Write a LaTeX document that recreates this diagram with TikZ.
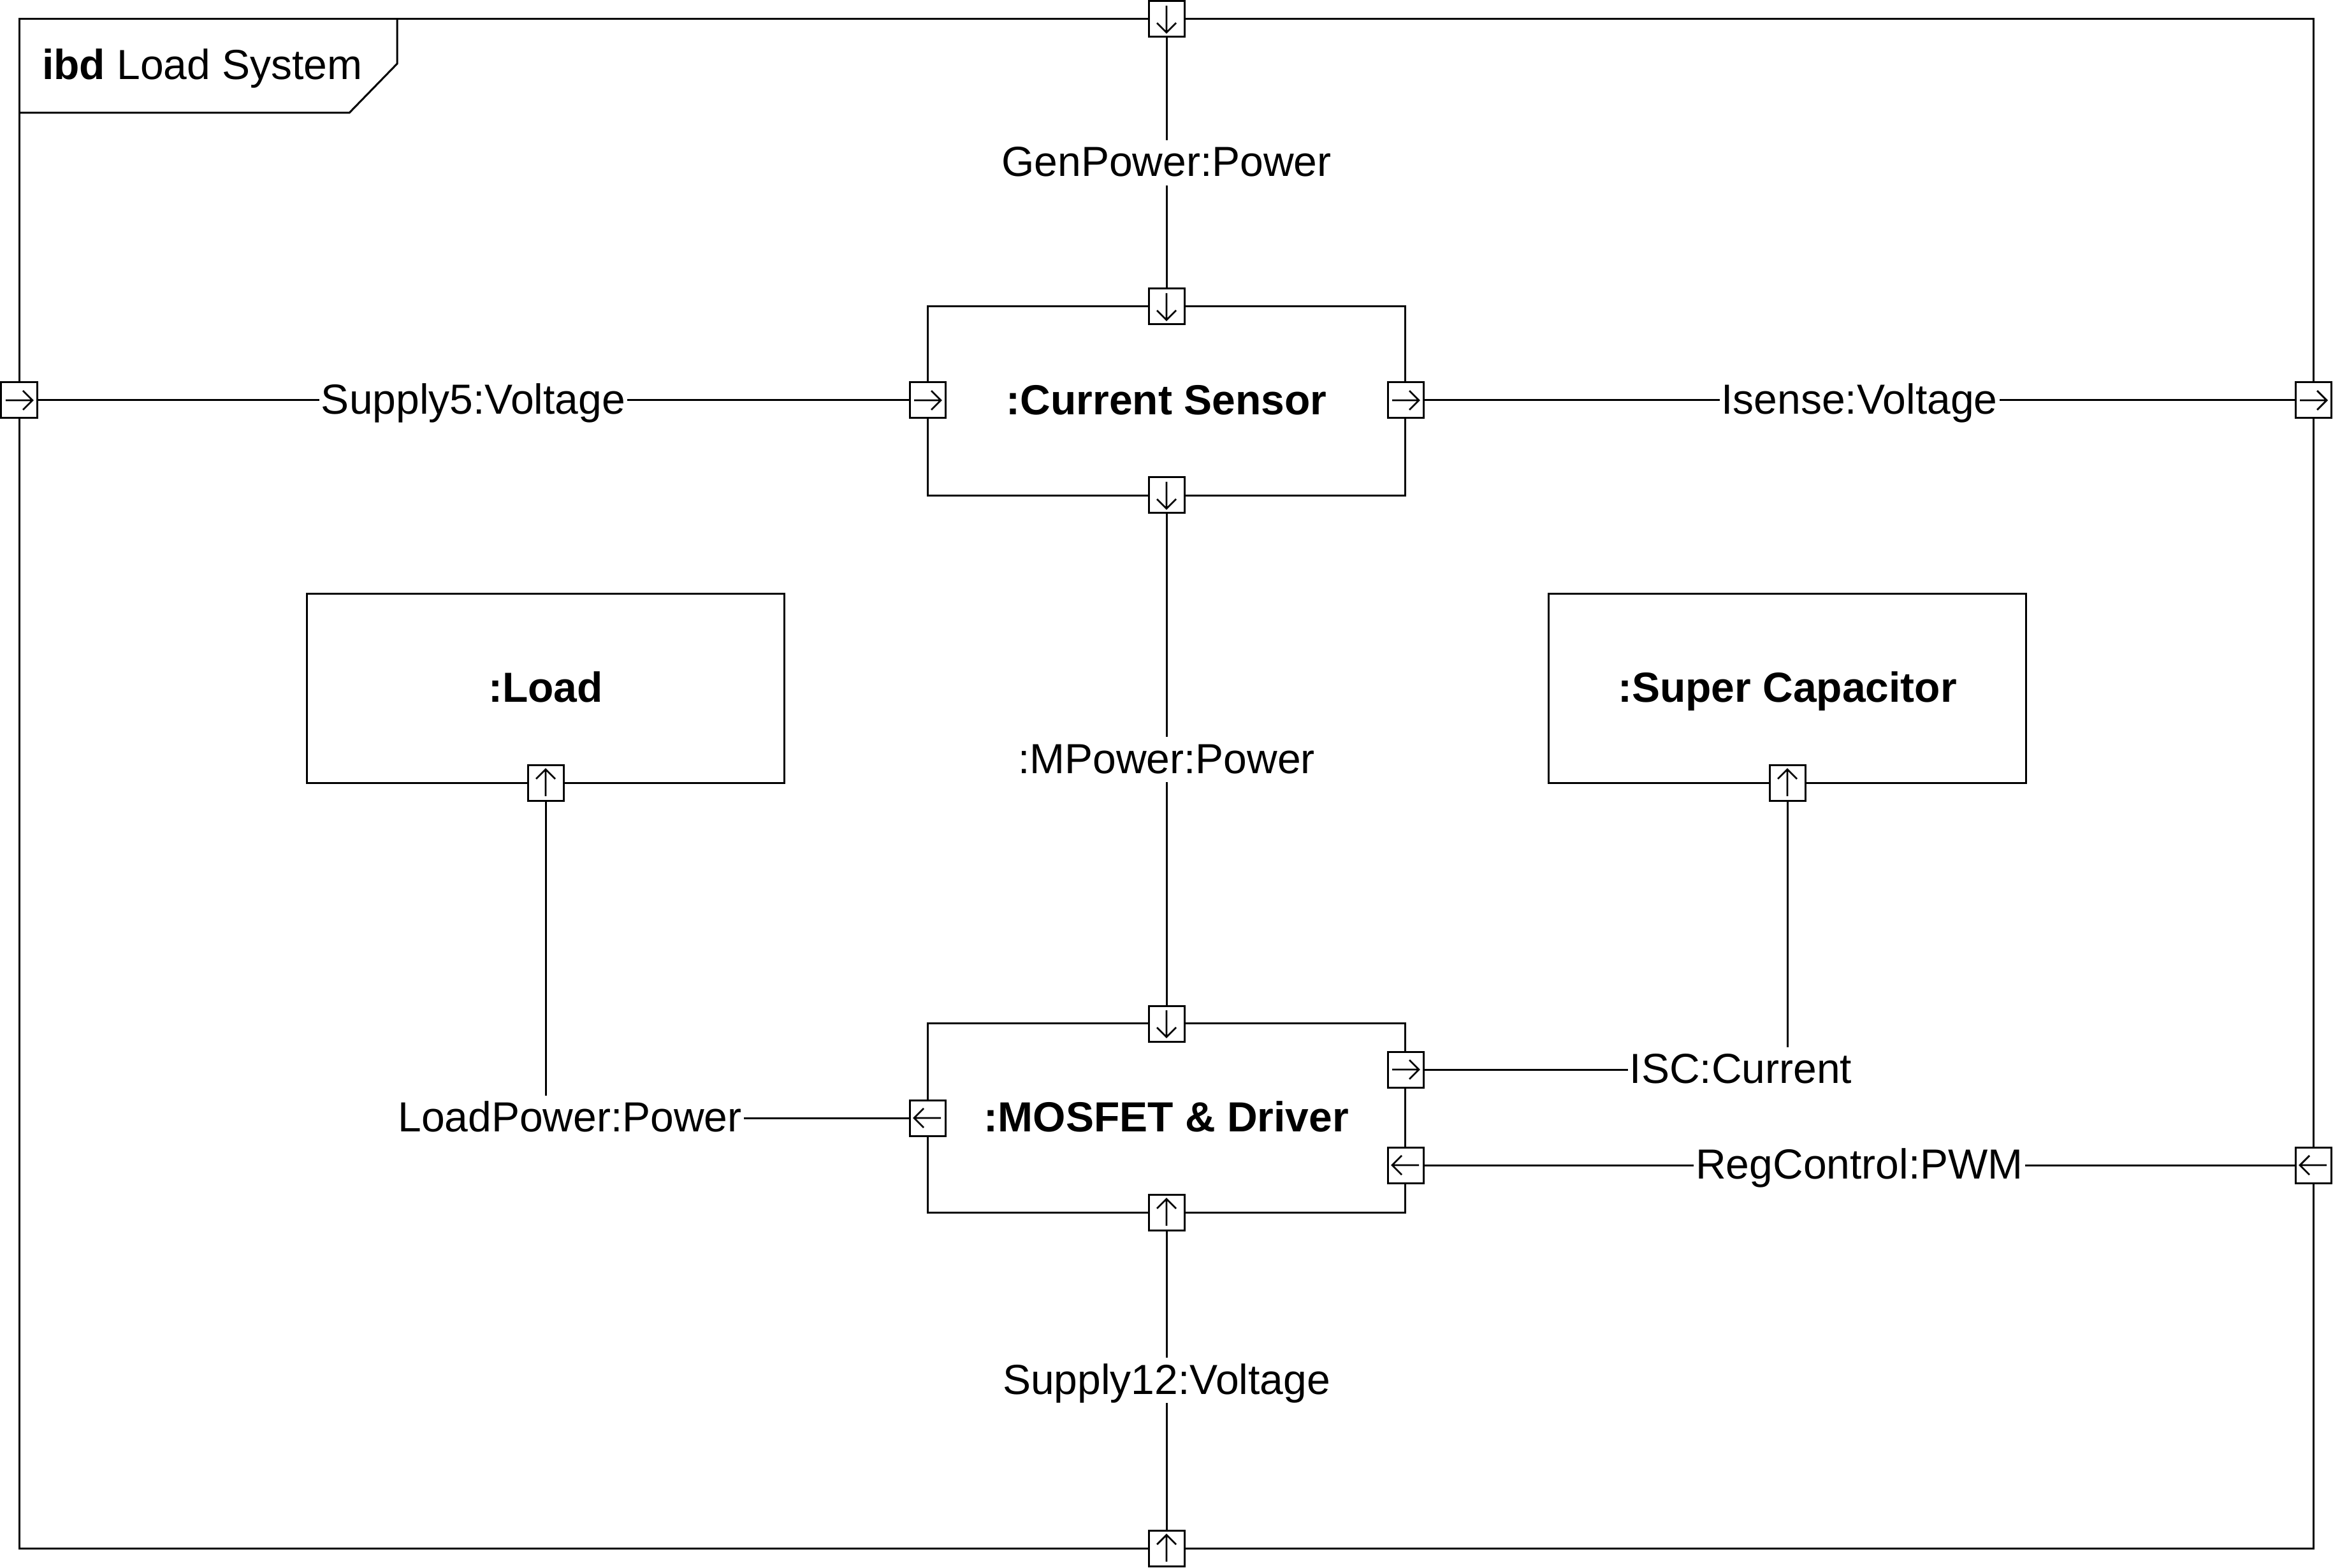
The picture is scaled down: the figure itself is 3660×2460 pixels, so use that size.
\documentclass[tikz,border=0pt]{standalone}
\usepackage{fontspec}
\setmainfont{Liberation Sans}
\usetikzlibrary{backgrounds}
\tikzset{
 port/.style={draw, fill=white, line width=0.6pt, minimum size=11.2pt, inner sep=0pt},
 block/.style={draw, fill=white, line width=0.6pt, minimum width=149.8pt, minimum height=59.3pt, font=\fontsize{13.2}{15.8}\selectfont\bfseries, inner sep=0pt, text height=11.4pt, text depth=2.8pt},
 conn/.style={line width=0.6pt},
 lbl/.style={fill=white, inner xsep=0.6pt, inner ysep=0pt, font=\fontsize{13.2}{15.8}\selectfont, text height=11.4pt, text depth=2.8pt},
 parr/.style={line width=0.55pt},
}
\newcommand\portR[1]{\draw[parr] ([xshift=-4.2pt]#1.center) -- ([xshift=4.2pt]#1.center) ([xshift=1.2pt,yshift=3pt]#1.center) -- ([xshift=4.2pt]#1.center) -- ([xshift=1.2pt,yshift=-3pt]#1.center);}
\newcommand\portL[1]{\draw[parr] ([xshift=4.2pt]#1.center) -- ([xshift=-4.2pt]#1.center) ([xshift=-1.2pt,yshift=3pt]#1.center) -- ([xshift=-4.2pt]#1.center) -- ([xshift=-1.2pt,yshift=-3pt]#1.center);}
\newcommand\portU[1]{\draw[parr] ([yshift=-4.2pt]#1.center) -- ([yshift=4.2pt]#1.center) ([yshift=1.2pt,xshift=3pt]#1.center) -- ([yshift=4.2pt]#1.center) -- ([yshift=1.2pt,xshift=-3pt]#1.center);}
\newcommand\portD[1]{\draw[parr] ([yshift=4.2pt]#1.center) -- ([yshift=-4.2pt]#1.center) ([yshift=-1.2pt,xshift=3pt]#1.center) -- ([yshift=-4.2pt]#1.center) -- ([yshift=-1.2pt,xshift=-3pt]#1.center);}
\begin{document}
\begin{tikzpicture}[x=0.2pt,y=-0.2pt]
\useasboundingbox (0,0) rectangle (3660,2460);
% blocks
\node[block] (cs) at (1830,629) {:Current Sensor};
\node[block] (load) at (856,1080) {:Load};
\node[block] (cap) at (2804,1080) {:Super Capacitor};
\node[block] (mos) at (1830,1754) {:MOSFET \& Driver};
% title
\node[anchor=base west, inner sep=0pt, font=\fontsize{13.2}{15.8}\selectfont] (title) at (65,125) {\textbf{ibd} Load System};
% ports
\node[port] (fT) at (1830,30) {};
\node[port] (fL) at (30,628) {};
\node[port] (fR1) at (3629,628) {};
\node[port] (fR2) at (3629,1828) {};
\node[port] (fB) at (1830,2429) {};
\node[port] (csT) at (1830,481) {};
\node[port] (csB) at (1830,777) {};
\node[port] (csL) at (1455,628) {};
\node[port] (csR) at (2205,628) {};
\node[port] (loadB) at (856,1228) {};
\node[port] (capB) at (2804,1228) {};
\node[port] (mosT) at (1830,1606) {};
\node[port] (mosB) at (1830,1902) {};
\node[port] (mosL) at (1455,1754) {};
\node[port] (mosR1) at (2205,1678) {};
\node[port] (mosR2) at (2205,1828) {};
% port arrows
\portD{fT} \portR{fL} \portR{fR1} \portL{fR2} \portU{fB}
\portD{csT} \portD{csB} \portR{csL} \portR{csR}
\portU{loadB} \portU{capB}
\portD{mosT} \portU{mosB} \portL{mosL} \portR{mosR1} \portL{mosR2}
\begin{pgfonlayer}{background}
\draw[conn] (30,30) rectangle (3629,2429);
\draw[conn] (623,30) -- (623,100) -- (548,177) -- (30,177);
\draw[conn] (fT) -- node[lbl] {GenPower:Power} (csT);
\draw[conn] (fL) -- node[lbl] {Supply5:Voltage} (csL);
\draw[conn] (csR) -- node[lbl] {Isense:Voltage} (fR1);
\draw[conn] (csB) -- node[lbl] {:MPower:Power} (mosT);
\draw[conn] (loadB) |- node[lbl, pos=0.5, xshift=7.6pt] {LoadPower:Power} (mosL);
\draw[conn] (capB) |- node[lbl, pos=0.5, xshift=-14.6pt] {ISC:Current} (mosR1);
\draw[conn] (fR2) -- node[lbl] {RegControl:PWM} (mosR2);
\draw[conn] (fB) -- node[lbl] {Supply12:Voltage} (mosB);
\end{pgfonlayer}
\end{tikzpicture}
\end{document}
